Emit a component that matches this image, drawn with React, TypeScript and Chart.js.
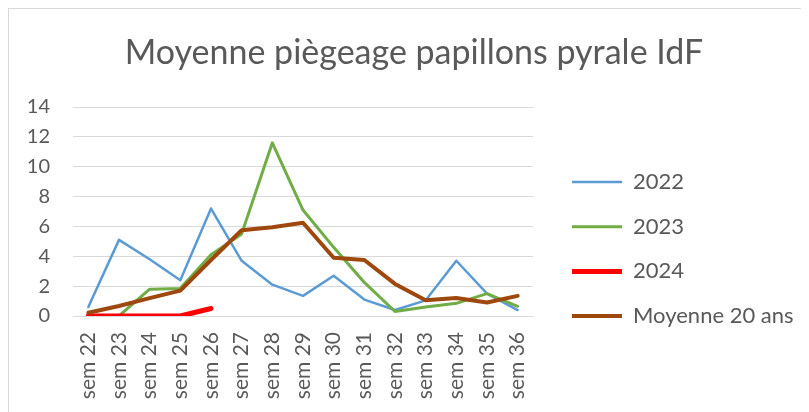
import React, { useEffect, useRef } from 'react';
import { Chart, registerables } from 'chart.js';

Chart.register(...registerables);

// ---- data ----
const categories = ['sem 22', 'sem 23', 'sem 24', 'sem 25', 'sem 26', 'sem 27', 'sem 28', 'sem 29', 'sem 30', 'sem 31', 'sem 32', 'sem 33', 'sem 34', 'sem 35', 'sem 36'];
const s2022 = [0.6, 5.1, 3.8, 2.4, 7.2, 3.7, 2.1, 1.35, 2.7, 1.1, 0.4, 1.05, 3.7, 1.5, 0.4];
const s2023 = [0, 0, 1.8, 1.85, 4.1, 5.5, 11.6, 7.1, 4.6, 2.25, 0.3, 0.6, 0.85, 1.5, 0.65];
const s2024 = [0, 0, 0, 0, 0.5];
const sMoyenne = [0.22, 0.67, 1.2, 1.7, 3.75, 5.75, 5.95, 6.25, 3.9, 3.75, 2.15, 1.05, 1.2, 0.9, 1.35];
const seriesNames = ['2022', '2023', '2024', 'Moyenne 20 ans'];
const seriesColors = ['#5B9BD5', '#70AD47', '#FF0000', '#9E480E'];
const seriesWidths = [2.5, 3, 5, 4];
const yMin = 0;
const yMax = 14;
const yStep = 2;
const titleText = 'Moyenne piègeage papillons pyrale IdF';

const W = 800;
const H = 403;
const FAMILY = 'Lato, "Open Sans", sans-serif';
const TEXT = '#595959';
const GRID = '#d9d9d9';

export default function App() {
  const ref = useRef<HTMLCanvasElement>(null);

  useEffect(() => {
    document.documentElement.style.overflow = 'hidden';
    document.body.style.overflow = 'hidden';
    const canvas = ref.current;
    if (!canvas) return;

    const legendFs = 22;
    const legendPad = 44.7 - legendFs;
    const boxW = 50;
    const mctx = document.createElement('canvas').getContext('2d')!;
    mctx.font = `normal ${legendFs}px ${FAMILY}`;
    const maxText = Math.max(...seriesNames.map((n) => mctx.measureText(n).width));

    const plotLeft = 64;
    const plotRight = 524;
    const plotTop = 98;
    const plotBottom = 307;
    const itemX = 563;
    const legendLeft = itemX - legendPad;
    const legendWidth = legendPad + boxW + legendFs / 2 + maxText + 10;
    const padRight = W - legendLeft - legendWidth;
    const padLeft = 0;
    const titleCenter = 405;
    const titleShift = titleCenter - (padLeft + W - padRight) / 2;
    const yAxisW = plotLeft - padLeft;
    const dummyW = legendLeft - plotRight;

    const firstCenter = 173;
    const colH = seriesNames.length * (legendFs + legendPad);
    const legendTitleH = 2 * (firstCenter - legendFs / 2) - legendPad - H + colH;

    const titleFs = 34;
    const titlePadTop = 24;
    const titlePadBottom = plotTop - titlePadTop - titleFs * 1.2;

    const allSeries = [s2022, s2023, s2024, sMoyenne];

    const shiftTitle = {
      id: 'shiftTitle',
      afterLayout(chart: any) {
        const t = chart.titleBlock;
        if (t) {
          t.left += titleShift;
          t.right += titleShift;
        }
      },
    };

    const chart = new Chart(canvas, {
      type: 'line',
      data: {
        labels: categories,
        datasets: allSeries.map((d, i) => ({
          label: seriesNames[i],
          data: d,
          borderColor: seriesColors[i],
          backgroundColor: seriesColors[i],
          borderWidth: seriesWidths[i],
          borderCapStyle: 'round',
          borderJoinStyle: 'round',
          pointRadius: 0,
          pointHoverRadius: 0,
          pointStyle: 'line',
          tension: 0,
          fill: false,
          order: allSeries.length - 1 - i,
        })),
      },
      plugins: [shiftTitle],
      options: {
        responsive: false,
        animation: false,
        devicePixelRatio: 1,
        layout: { padding: { left: padLeft, right: padRight, top: 0, bottom: 0 } },
        plugins: {
          title: {
            display: true,
            text: titleText,
            color: TEXT,
            font: { family: FAMILY, size: titleFs, weight: 'normal', lineHeight: 1.2 },
            padding: { top: titlePadTop, bottom: titlePadBottom },
          },
          legend: {
            display: true,
            position: 'right',
            align: 'center',
            maxWidth: 1000,
            title: {
              display: true,
              text: ' ',
              font: { size: 10, lineHeight: 1.2 },
              padding: { top: legendTitleH - 12, bottom: 0 },
            },
            labels: {
              color: TEXT,
              font: { family: FAMILY, size: legendFs },
              usePointStyle: true,
              pointStyle: 'line',
              pointStyleWidth: boxW,
              padding: legendPad,
              sort: (a: any, b: any) => a.datasetIndex - b.datasetIndex,
            },
          },
          tooltip: { enabled: false },
        },
        scales: {
          x: {
            type: 'category',
            offset: true,
            grid: { display: false, drawTicks: false },
            border: { display: false },
            ticks: {
              color: TEXT,
              font: { family: FAMILY, size: 21 },
              minRotation: 90,
              maxRotation: 90,
              autoSkip: false,
              padding: 16,
            },
            afterFit: (s: any) => {
              s.height = H - plotBottom;
            },
          },
          y: {
            type: 'linear',
            min: yMin,
            max: yMax,
            grid: { color: GRID, lineWidth: 1, drawTicks: false },
            border: { display: false },
            ticks: {
              stepSize: yStep,
              color: TEXT,
              font: { family: FAMILY, size: 20 },
              padding: 23,
            },
            afterFit: (s: any) => {
              s.width = yAxisW;
            },
          },
          yR: {
            type: 'linear',
            position: 'right',
            display: true,
            grid: { display: false, drawTicks: false },
            border: { display: false },
            ticks: { display: false },
            afterFit: (s: any) => {
              s.width = dummyW;
            },
          },
        },
      },
    } as any);

    return () => {
      chart.destroy();
    };
  }, []);

  return (
    <div
      style={{
        width: W + 1,
        height: H + 1,
        borderLeft: `1px solid ${GRID}`,
        borderTop: `1px solid ${GRID}`,
        boxSizing: 'border-box',
        position: 'relative',
        background: '#ffffff',
      }}
    >
      <canvas ref={ref} width={W} height={H} style={{ display: 'block', width: W, height: H }} />
    </div>
  );
}
